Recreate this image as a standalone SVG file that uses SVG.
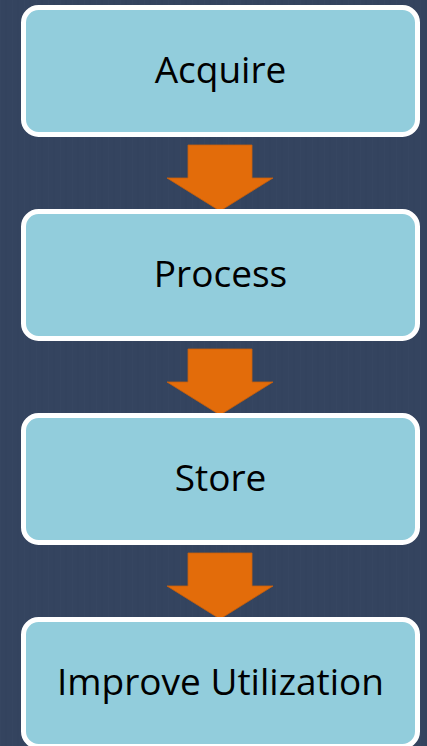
<svg xmlns="http://www.w3.org/2000/svg" width="427" height="746" viewBox="0 0 427 746">
  <defs>
    <pattern id="tex" width="12" height="12" patternUnits="userSpaceOnUse">
      <rect width="12" height="12" fill="#34445f"/>
      <line x1="0" y1="0" x2="0" y2="12" stroke="#384863" stroke-width="1"/>
      <line x1="6" y1="0" x2="6" y2="12" stroke="#32425c" stroke-width="1"/>
    </pattern>
  </defs>
  <style>
    .box { fill: #92cddc; stroke: #ffffff; stroke-width: 5; }
    .lbl { font-family: "Open Sans", "Liberation Sans", sans-serif; font-size: 37px; fill: #000000; text-anchor: middle; }
    .arr { fill: #e36c0a; stroke: #c95f0a; stroke-width: 0.8; }
  </style>
  <rect width="427" height="746" fill="url(#tex)"/>
  <g id="connectors">
    <polygon class="arr" points="188,145 252,145 252,178 273,178 220,211 167,178 188,178"/>
    <polygon class="arr" points="188,349 252,349 252,382 273,382 220,415 167,382 188,382"/>
    <polygon class="arr" points="188,553 252,553 252,586 273,586 220,619 167,586 188,586"/>
  </g>
  <g id="acquire">
    <rect class="box" x="23.5" y="7.5" width="394" height="127" rx="15"/>
    <text class="lbl" x="220.5" y="83">Acquire</text>
  </g>
  <g id="process">
    <rect class="box" x="23.5" y="211.5" width="394" height="127" rx="15"/>
    <text class="lbl" x="220.5" y="287">Process</text>
  </g>
  <g id="store">
    <rect class="box" x="23.5" y="415.5" width="394" height="127" rx="15"/>
    <text class="lbl" x="220.5" y="491">Store</text>
  </g>
  <g id="improve">
    <rect class="box" x="23.5" y="619.5" width="394" height="127" rx="15"/>
    <text class="lbl" x="220.5" y="695">Improve Utilization</text>
  </g>
</svg>
